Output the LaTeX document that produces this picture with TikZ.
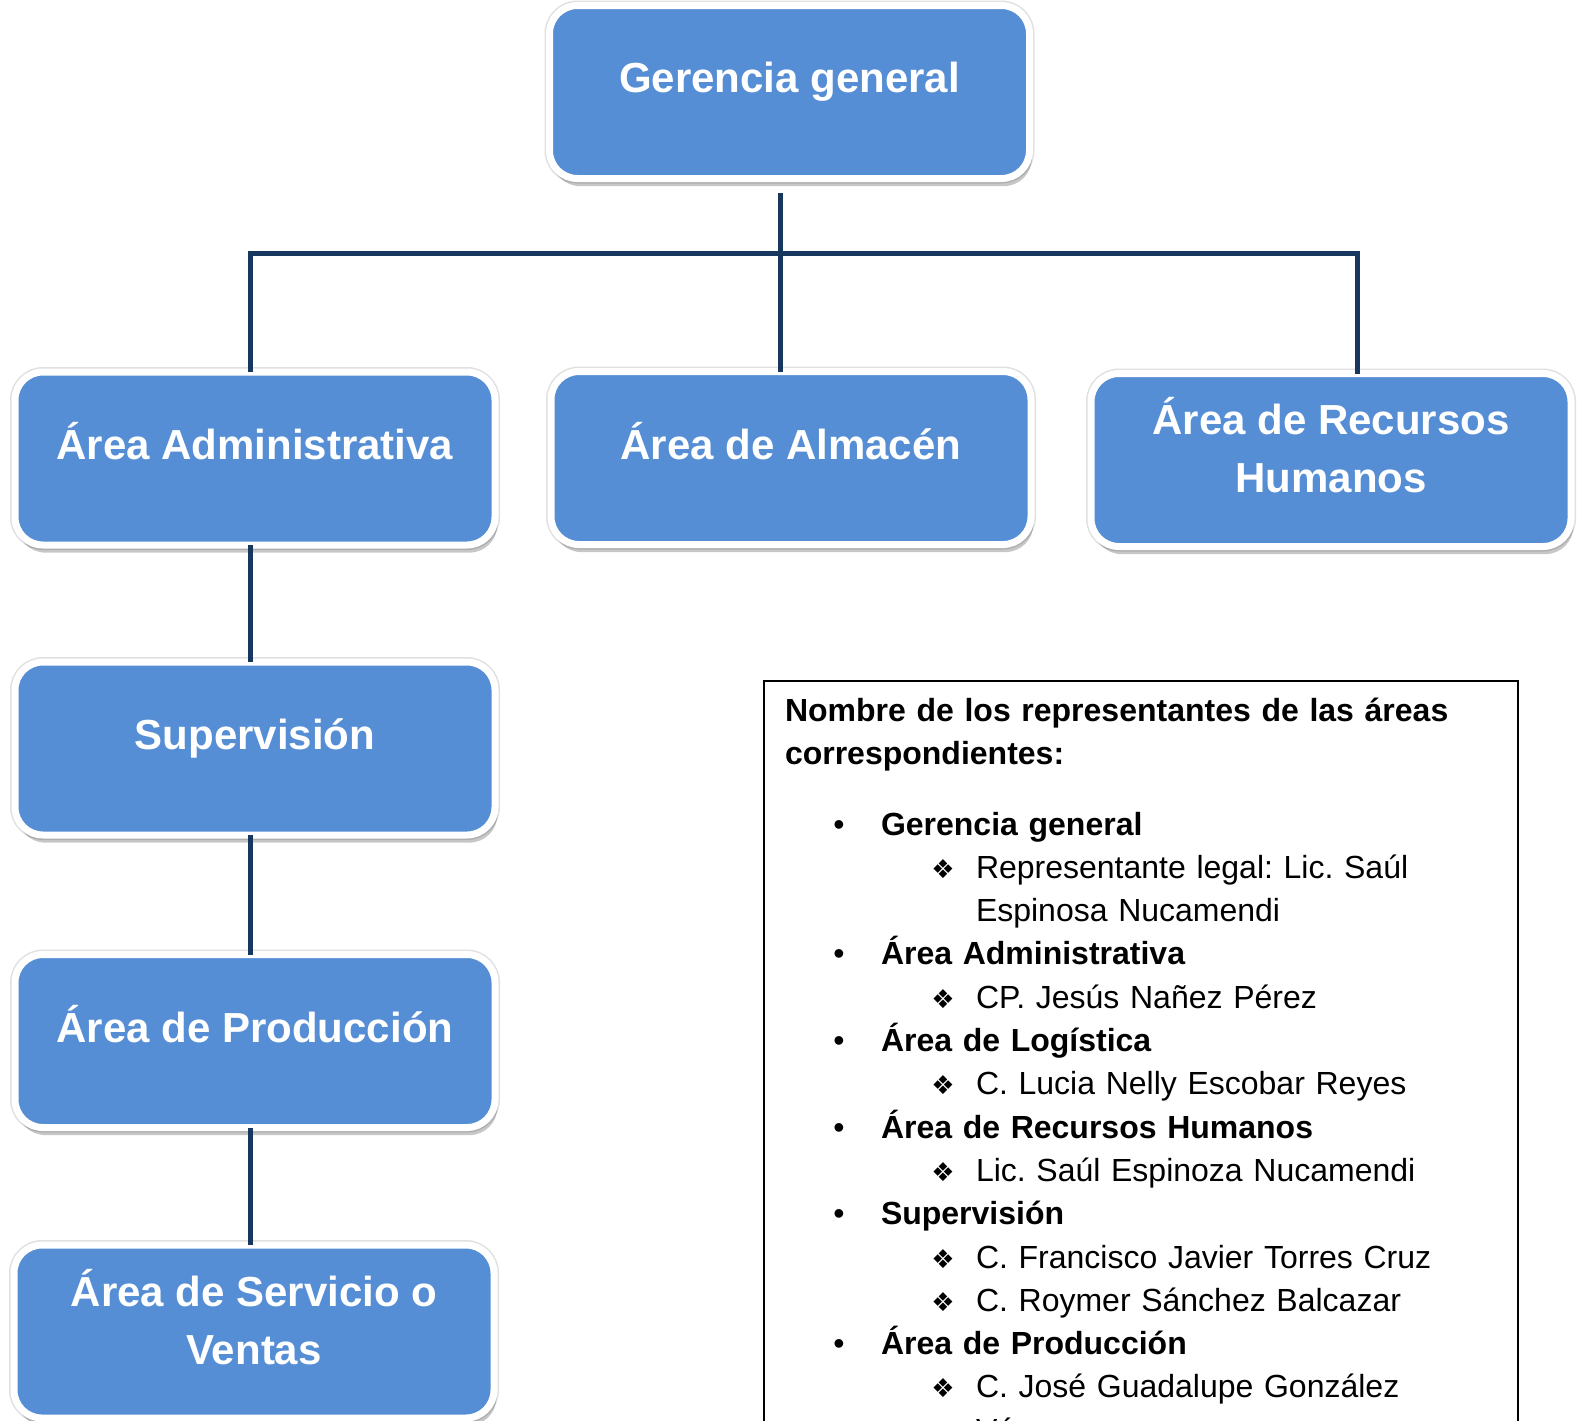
\documentclass[tikz,border=0pt]{standalone}
\usepackage{fontspec}
\setmainfont{Liberation Sans}
\newfontfamily\symfont{DejaVu Sans}
\usepackage{tikz}
\usetikzlibrary{shadows,calc}
\definecolor{boxblue}{RGB}{85,142,213}
\definecolor{linenavy}{RGB}{23,55,94}
\frenchspacing
\newcommand{\areaitem}[1]{\hspace*{27pt}\makebox[0pt]{\textbullet}\hspace*{21pt}\textbf{#1}}
\newcommand{\repitem}[1]{\hspace*{79pt}\makebox[0pt]{\fontsize{13}{13}\symfont ❖}\hspace*{16.5pt}#1}
\newcommand{\repcont}[1]{\hspace*{95.5pt}#1}

\begin{document}
\begin{tikzpicture}[x=0.5pt, y=-0.5pt,
		area/.style={rectangle, rounded corners=14pt, draw=white, line width=3.5pt, fill=boxblue,
			minimum width=240pt, minimum height=86.5pt, inner sep=0pt, outer sep=0pt,
			preaction={draw=black!12, line width=5pt},
			drop shadow={shadow xshift=1.2pt, shadow yshift=-3.8pt, opacity=0.22, fill=black}},
		areatext/.style={text=white, font=\bfseries\fontsize{21}{29}\selectfont, align=center, yshift=7.25pt},
		conn/.style={draw=linenavy, line width=2.5pt}
		]
	
		\useasboundingbox (0,0) rectangle (1580,1420);
		\clip (0,0) rectangle (1580,1420);
	
		% Cajas del organigrama
		\node[area, label={[areatext, yshift=-2pt]center:Gerencia general}] (GG) at (789.5, 92) {};
		\node[area, label={[areatext, yshift=1.5pt]center:Área Administrativa}] (AD) at (255, 458.5) {};
		\node[area, label={[areatext, yshift=1pt]center:Área de Almacén}] (AL) at (791, 458) {};
		\node[area, label={[areatext]center:{Área de Recursos\\Humanos}}] (RH) at (1331, 460) {};
		\node[area, label={[areatext, yshift=-2pt]center:Supervisión}] (SU) at (255, 748.5) {};
		\node[area, label={[areatext, yshift=1pt]center:Área de Producción}] (PR) at (255, 1041) {};
		\node[area, label={[areatext]center:{Área de Servicio o\\Ventas}}] (SV) at (254, 1331.5) {};
	
		% Conectores
		\coordinate (J) at (780, 253);
		\coordinate (JL) at (250, 253);
		\coordinate (JR) at (1357, 253);
	
		\draw[conn, shorten <=7.25pt] (J |- GG.south) -- (J |- AL.north);
		\draw[conn] (JL |- AD.north) -- (JL) -- (JR) -- (JR |- RH.north);
		\draw[conn] (JL |- AD.south) -- (JL |- SU.north);
		\draw[conn] (JL |- SU.south) -- (JL |- PR.north);
		\draw[conn] (JL |- PR.south) -- (JL |- SV.north);
	
		% Cuadro de representantes
		\node[draw=black, line width=1pt, anchor=north west, text width=356pt,
			inner xsep=10.5pt, inner ysep=8.5pt, align=left,
			font=\fontsize{16}{21.65}\selectfont] (L) at (763, 680) {
			\textbf{Nombre de los representantes de las áreas}\\
			\textbf{correspondientes:}\\[13.5pt]
			\areaitem{Gerencia general}\\
			\repitem{Representante legal: Lic. Saúl}\\
			\repcont{Espinosa Nucamendi}\\
			\areaitem{Área Administrativa}\\
			\repitem{CP. Jesús Nañez Pérez}\\
			\areaitem{Área de Logística}\\
			\repitem{C. Lucia Nelly Escobar Reyes}\\
			\areaitem{Área de Recursos Humanos}\\
			\repitem{Lic. Saúl Espinoza Nucamendi}\\
			\areaitem{Supervisión}\\
			\repitem{C. Francisco Javier Torres Cruz}\\
			\repitem{C. Roymer Sánchez Balcazar}\\
			\areaitem{Área de Producción}\\
			\repitem{C. José Guadalupe González}\\
			\repcont{Vá}
		};
	\end{tikzpicture}
\end{document}
